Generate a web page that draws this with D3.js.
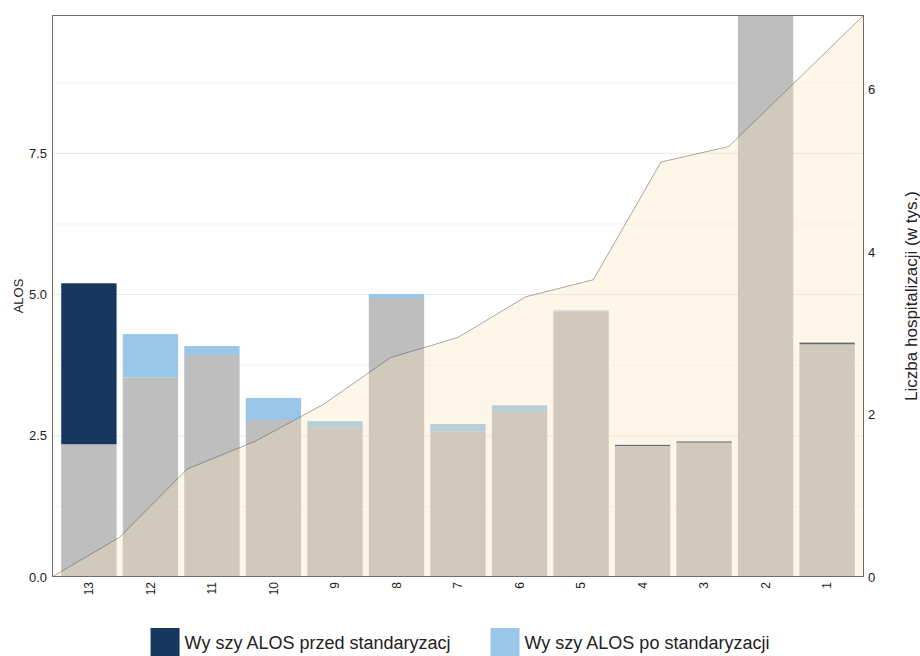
<!DOCTYPE html>
<html>
<head>
<meta charset="utf-8">
<script src="https://cdn.jsdelivr.net/npm/d3@7"></script>
<style>
  body { margin: 0; background: #fff; }
  text { font-family: "Liberation Sans", Arial, sans-serif; fill: #222; }
</style>
</head>
<body>
<div id="chart"></div>
<script>
// data
const kategorie = ["13", "12", "11", "10", "9", "8", "7", "6", "5", "4", "3", "2", "1"];
const alosPrzed = [5.20, 3.53, 3.93, 2.78, 2.64, 4.94, 2.58, 2.92, 4.70, 2.34, 2.40, 10.4, 4.15];
const alosPo    = [2.35, 4.30, 4.09, 3.17, 2.76, 5.01, 2.71, 3.04, 4.72, 2.32, 2.38, 10.3, 4.12];
// cumulative number of hospitalisations (thousands)
const hospSkum  = [0, 0.49, 1.33, 1.67, 2.12, 2.70, 2.95, 3.45, 3.66, 5.11, 5.30, 6.11, 6.92];
const ticksLewa = [0, 2.5, 5, 7.5];
const ticksPrawa = [0, 2, 4, 6];
const legenda = ["Wy szy ALOS przed standaryzacj", "Wy szy ALOS po standaryzacji"];

const width = 920, height = 656;
const margins = { top: 15, bottom: 79, left: 52, right: 56 };

const data = kategorie.map((k, i) => ({ k, przed: alosPrzed[i], po: alosPo[i] }));

//scales
const xScale = d3.scaleBand()
  .domain(kategorie)
  .range([margins.left, width - margins.right])
  .paddingInner(0.1)
  .paddingOuter(0.15);

const yScale = d3.scaleLinear()
  .domain([0, 9.95])
  .range([height - margins.bottom, margins.top]);

const y2Scale = d3.scaleLinear()
  .domain([0, 6.92])
  .range([height - margins.bottom, margins.top]);

const xLine = d3.scaleLinear()
  .domain([0, hospSkum.length - 1])
  .range([margins.left, width - margins.right]);

const colors = { szary: "#bebebe", przed: "#17375e", po: "#9ac7e7" };

const svg = d3.select("#chart")
  .append("svg")
  .attr("width", width)
  .attr("height", height);

svg.append("clipPath").attr("id", "clip")
  .append("rect")
  .attr("x", margins.left).attr("y", margins.top)
  .attr("width", width - margins.left - margins.right)
  .attr("height", height - margins.top - margins.bottom);

const panel = svg.append("g").attr("clip-path", "url(#clip)");

//grid - minor then major
const minor = ticksLewa.map(t => t + 1.25);
panel.selectAll("line.minor")
  .data(minor)
  .join("line")
  .attr("class", "minor")
  .attr("x1", margins.left).attr("x2", width - margins.right)
  .attr("y1", d => yScale(d)).attr("y2", d => yScale(d))
  .attr("stroke", "#f4f4f4");

panel.selectAll("line.major")
  .data(ticksLewa)
  .join("line")
  .attr("class", "major")
  .attr("x1", margins.left).attr("x2", width - margins.right)
  .attr("y1", d => yScale(d)).attr("y2", d => yScale(d))
  .attr("stroke", "#e8e8e8");

//bars: grey part up to the smaller value
panel.selectAll("rect.base")
  .data(data)
  .join("rect")
  .attr("class", "base")
  .attr("x", d => xScale(d.k))
  .attr("width", xScale.bandwidth())
  .attr("y", d => yScale(Math.min(d.przed, d.po)))
  .attr("height", d => yScale(0) - yScale(Math.min(d.przed, d.po)))
  .attr("fill", colors.szary);

//coloured top part: dark if before > after, light if after > before
panel.selectAll("rect.diff")
  .data(data.filter(d => d.przed !== d.po))
  .join("rect")
  .attr("class", "diff")
  .attr("x", d => xScale(d.k))
  .attr("width", xScale.bandwidth())
  .attr("y", d => yScale(Math.max(d.przed, d.po)))
  .attr("height", d => yScale(Math.min(d.przed, d.po)) - yScale(Math.max(d.przed, d.po)))
  .attr("fill", d => d.przed > d.po ? colors.przed : colors.po);

//area of hospitalisations
const area = d3.area()
  .x((d, i) => xLine(i))
  .y0(y2Scale(0))
  .y1(d => y2Scale(d));

panel.append("path")
  .datum(hospSkum)
  .attr("d", area)
  .attr("fill", "rgb(252,226,184)")
  .attr("fill-opacity", 0.31);

const line = d3.line()
  .x((d, i) => xLine(i))
  .y(d => y2Scale(d));

panel.append("path")
  .datum(hospSkum)
  .attr("d", line)
  .attr("fill", "none")
  .attr("stroke", "#555")
  .attr("stroke-opacity", 0.5)
  .attr("stroke-width", 1);

//panel border
svg.append("rect")
  .attr("x", margins.left + 0.5).attr("y", margins.top + 0.5)
  .attr("width", width - margins.left - margins.right - 1)
  .attr("height", height - margins.top - margins.bottom - 1)
  .attr("fill", "none")
  .attr("stroke", "#6e6e6e");

//axes
const yAxis = svg.append("g")
  .attr("transform", `translate(${margins.left},0)`)
  .call(d3.axisLeft(yScale).tickValues(ticksLewa).tickFormat(d3.format(".1f")).tickSize(0).tickPadding(5));
yAxis.select(".domain").remove();
yAxis.selectAll("text").style("font-size", "13px").style("font-family", null);

const y2Axis = svg.append("g")
  .attr("transform", `translate(${width - margins.right},0)`)
  .call(d3.axisRight(y2Scale).tickValues(ticksPrawa).tickFormat(d3.format("d")).tickSize(0).tickPadding(4));
y2Axis.select(".domain").remove();
y2Axis.selectAll("text").style("font-size", "13px").style("font-family", null);

const xAxis = svg.append("g")
  .attr("transform", `translate(0,${height - margins.bottom})`)
  .call(d3.axisBottom(xScale).tickSize(0));
xAxis.select(".domain").remove();
xAxis.selectAll("text")
  .style("font-size", "12px").style("font-family", null)
  .attr("transform", "rotate(-90)")
  .attr("text-anchor", "end")
  .attr("x", -5)
  .attr("y", 0)
  .attr("dy", "0.35em");

//axis titles
svg.append("text")
  .attr("transform", `translate(18,${(margins.top + height - margins.bottom) / 2}) rotate(-90)`)
  .attr("text-anchor", "middle")
  .attr("dy", "0.35em")
  .style("font-size", "13px")
  .text("ALOS");

svg.append("text")
  .attr("transform", `translate(911,${(margins.top + height - margins.bottom) / 2}) rotate(-90)`)
  .attr("text-anchor", "middle")
  .attr("dy", "0.35em")
  .style("font-size", "17px")
  .text("Liczba hospitalizacji (w tys.)");

//legend
const keySize = 29, keyGap = 5, itemGap = 40;
const leg = svg.append("g");
const items = leg.selectAll("g")
  .data(legenda)
  .join("g");
items.append("rect")
  .attr("width", keySize).attr("height", keySize)
  .attr("fill", (d, i) => i === 0 ? colors.przed : colors.po);
items.append("text")
  .attr("x", keySize + keyGap)
  .attr("y", keySize / 2)
  .attr("dy", "0.35em")
  .style("font-size", "18px")
  .text(d => d);
let pos = 0;
items.each(function () {
  d3.select(this).attr("transform", `translate(${pos},0)`);
  pos += this.getBBox().width + itemGap;
});
const total = pos - itemGap;
leg.attr("transform", `translate(${(width - total) / 2},628)`);
</script>
</body>
</html>
